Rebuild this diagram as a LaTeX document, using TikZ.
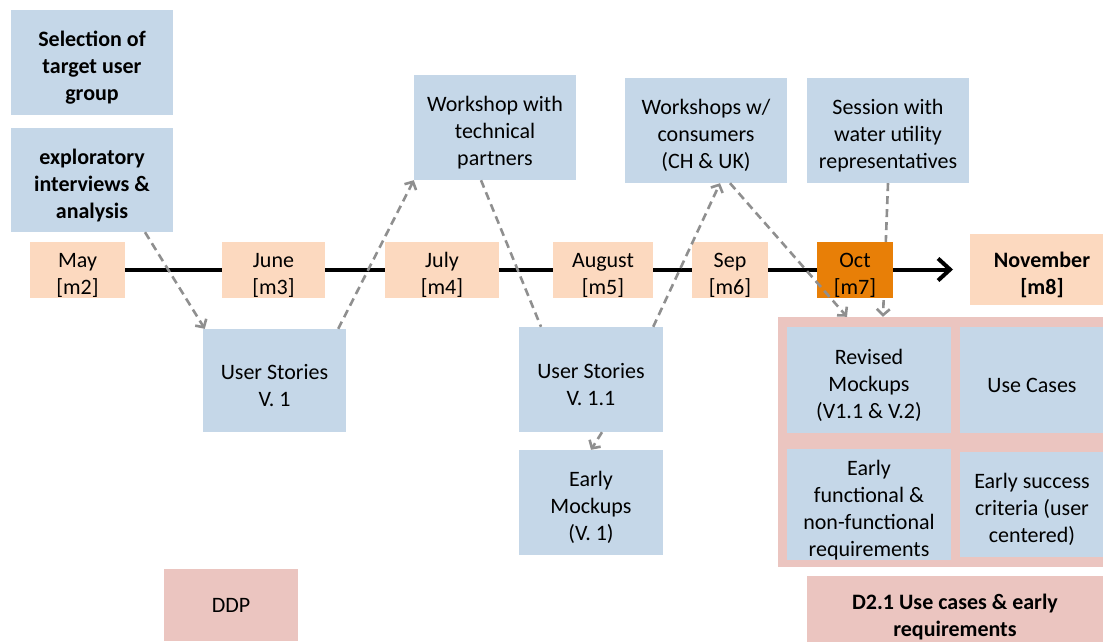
\documentclass[tikz,border=0pt]{standalone}
\usepackage{fontspec}
\setmainfont{Carlito}
\usetikzlibrary{arrows.meta,calc}
\definecolor{boxblue}{HTML}{C5D7E8}
\definecolor{monthpeach}{HTML}{FCD9BF}
\definecolor{delivpink}{HTML}{EBC5C0}
\definecolor{octorange}{HTML}{E87F07}
\definecolor{flowgray}{HTML}{8F8F8F}
% strut that lifts the first line, so that the lines sit a little lower
\newcommand\tl{\rule{0pt}{26pt}}
\begin{document}
\begin{tikzpicture}[x=1pt,y=-1pt,
  wh/.style 2 args={minimum width=#1pt,minimum height=#2pt},
  cell/.style={rectangle,inner sep=0pt,align=center,
    font=\fontsize{22}{27}\selectfont},
  task/.style={cell,fill=boxblue},
  month/.style={cell,fill=monthpeach},
  deliv/.style={cell,fill=delivpink},
  flow/.style={draw=flowgray,line width=2.6pt,dash pattern=on 8pt off 5pt},
  flowarrow/.style={flow,-{Straight Barb[length=6pt,width=13pt]}},
  timeline/.style={line width=4pt,-{Straight Barb[length=12pt,width=22pt]}}
]
\path[use as bounding box,clip] (0,0) rectangle (1103,641);

% timeline
\node[month,wh={95}{53}] (may) at (77.5,269.5) {\tl May\\{[m2]}};
\coordinate (tlend) at (953,269.5);
\draw[timeline] (may.east) -- (tlend);

\node[month,wh={103}{53}] (jun) at (273.5,269.5) {\tl June\\{[m3]}};
\node[month,wh={114}{53}] (jul) at (442,269.5) {\tl July\\{[m4]}};
\node[month,wh={100}{53}] (aug) at (603,269.5) {\tl August\\{[m5]}};
\node[month,wh={76}{53}] (sep) at (730,269.5) {\tl Sep\\{[m6]}};
\node[month,wh={144}{71},font=\fontsize{22}{27}\selectfont\bfseries] (nov) at (1042,269.5) {\tl November\\{[m8]}};

% activities
\node[task,wh={162}{105},font=\fontsize{22}{27}\selectfont\bfseries] (sel) at (92,62.5) {\tl Selection of\\target user\\group};
\node[task,wh={162}{104},font=\fontsize{22}{27}\selectfont\bfseries] (expl) at (92,180) {\tl exploratory\\interviews \&\\analysis};
\node[task,wh={162}{105}] (wtp) at (495,127.5) {\tl Workshop with\\technical\\partners};
\node[task,wh={162}{105}] (wcon) at (706,130.5) {\tl Workshops w/\\consumers\\(CH \& UK)};
\node[task,wh={162}{105}] (sess) at (888,130.5) {\tl Session with\\water utility\\representatives};
\node[task,wh={143}{103}] (us1) at (274.5,380.5) {\tl User Stories\\V. 1};
\node[task,wh={144}{105}] (us11) at (591,379.5) {\tl User Stories\\V. 1.1};
\node[task,wh={144}{105}] (em) at (591,502.5) {\tl Early\\Mockups\\(V. 1)};

% deliverable contents
\node[deliv,wh={335}{250}] (cont) at (945.5,442) {};
\node[task,wh={164}{106}] (rev) at (869,380) {\tl Revised\\Mockups\\(V1.1 \& V.2)};
\node[task,wh={144}{106}] (ucase) at (1032,380) {\tl Use Cases};
\node[task,wh={164}{105}] (efr) at (869,504.5) {\tl Early\\functional \&\\non-functional\\requirements};
\node[task,wh={144}{105}] (esc) at (1032,504.5) {\tl Early success\\criteria (user\\centered)};
\node[deliv,wh={296}{72},font=\fontsize{22}{27}\selectfont\bfseries] (d21) at (955,612) {\tl D2.1 Use cases \& early\\requirements};
\node[deliv,wh={134}{72}] (ddp) at (231,605) {DDP};

% session feeds the revised mockups (runs behind October)
\draw[flowarrow] (sess.south) -- ($(rev.north |- cont.north)+(14,0)$);

\node[cell,wh={76}{53},fill=octorange] (oct) at (855,269.5) {\tl Oct\\{[m7]}};

% flow between activities
\draw[flowarrow] ([xshift=53pt]expl.south) -- ([xshift=2pt]us1.north west);
\draw[flowarrow] ([xshift=-8pt]us1.north east) -- (wtp.south west);
\draw[flow] ([xshift=-14pt]wtp.south) -- ([xshift=-50pt]us11.north);
\draw[flowarrow] ([xshift=-10pt]us11.north east) -- ([xshift=14pt]wcon.south);
\draw[flowarrow] ([xshift=24pt]wcon.south) -- ($(rev.north |- cont.north)+(-22,0)$);
\draw[flowarrow] ([xshift=11pt]us11.south) -- (em.north);
\end{tikzpicture}
\end{document}
